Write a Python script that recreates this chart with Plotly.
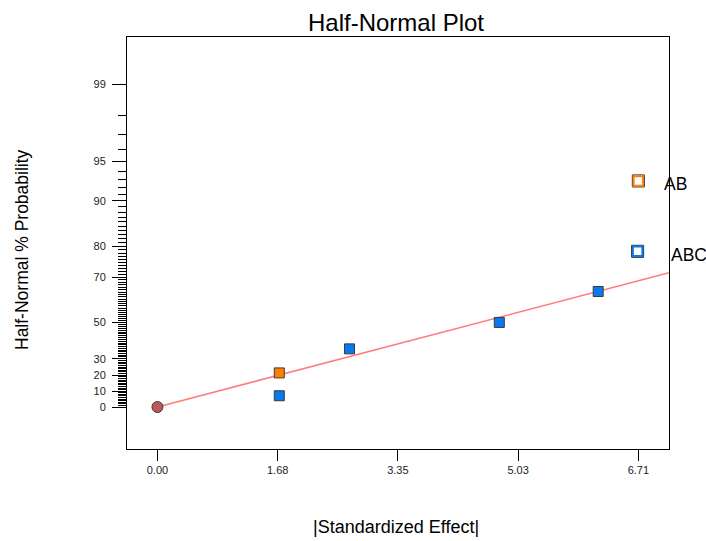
import plotly.graph_objects as go
from statistics import NormalDist

# Half-normal plot of standardized effects
effect = [1.70, 1.70, 2.68, 4.77, 6.15, 6.70, 6.71]
prob_pct = [7.14, 21.43, 35.71, 50.00, 64.29, 78.57, 92.86]
effect_sign = ["neg", "pos", "neg", "neg", "neg", "neg", "pos"]
chosen = [False, False, False, False, False, True, True]
term_label = ["", "", "", "", "", "ABC", "AB"]
label_dx = [0, 0, 0, 0, 0, 31, 24]
label_dy = [0, 0, 0, 0, 0, -4, -3.5]

origin_effect = [0.0]
origin_pct = [0.0]

fit_slope = 0.150  # half-normal quantile per unit of |effect|

x_tick_vals = [0.0, 1.6775, 3.355, 5.0325, 6.71]
x_tick_text = ["0.00", "1.68", "3.35", "5.03", "6.71"]
y_major_pct = [0, 10, 20, 30, 50, 70, 80, 90, 95, 99]
y_minor_pct = [p for p in range(1, 99) if p not in y_major_pct]

x_range = [-0.425, 7.138]
y_range = [-0.335, 2.951]

nd = NormalDist()


def hn(p):
    """Half-normal quantile for a percentage."""
    return nd.inv_cdf(0.5 + p / 200.0)


BLUE = "#0a78f0"
ORANGE = "#ff8000"
EDGE = "#3a3a3a"
FONT = "Liberation Sans, Arial, sans-serif"

fig = go.Figure()

# fitted line through the origin, running to the right edge of the frame
fig.add_trace(go.Scatter(
    x=[0.0, x_range[1]], y=[0.0, fit_slope * x_range[1]],
    mode="lines", line=dict(color="#ff7c7c", width=1.6),
    hoverinfo="skip", showlegend=False))

# origin point
fig.add_trace(go.Scatter(
    x=origin_effect, y=[hn(p) for p in origin_pct], mode="markers",
    marker=dict(symbol="circle", size=11, color="#c05858",
                line=dict(color=EDGE, width=1)),
    showlegend=False))

colour = [ORANGE if s == "pos" else BLUE for s in effect_sign]

# terms left in the error estimate: filled squares
fx = [e for e, c in zip(effect, chosen) if not c]
fy = [hn(p) for p, c in zip(prob_pct, chosen) if not c]
fc = [col for col, c in zip(colour, chosen) if not c]
fig.add_trace(go.Scatter(
    x=fx, y=fy, mode="markers",
    marker=dict(symbol="square", size=10, color=fc,
                line=dict(color=EDGE, width=1)),
    showlegend=False))

# chosen model terms: open squares
sx = [e for e, c in zip(effect, chosen) if c]
sy = [hn(p) for p, c in zip(prob_pct, chosen) if c]
sc = [col for col, c in zip(colour, chosen) if c]
fig.add_trace(go.Scatter(
    x=sx, y=sy, mode="markers",
    marker=dict(symbol="square", size=12, color="white",
                line=dict(color="#222222", width=1)),
    showlegend=False))
fig.add_trace(go.Scatter(
    x=sx, y=sy, mode="markers",
    marker=dict(symbol="square", size=9.5, color="white",
                line=dict(color=sc, width=2)),
    showlegend=False))

for e, p, c, t, dx, dy in zip(effect, prob_pct, chosen, term_label, label_dx, label_dy):
    if c:
        fig.add_annotation(
            x=e, y=hn(p), text=t, showarrow=False, xanchor="left",
            yanchor="middle", xshift=dx, yshift=dy,
            font=dict(family=FONT, size=17.5, color="black"))

fig.add_annotation(
    xref="paper", yref="paper", x=0.5, y=1, yshift=15, xshift=-2,
    text="Half-Normal Plot", showarrow=False, xanchor="center", yanchor="middle",
    font=dict(family=FONT, size=24, color="black"))
fig.add_annotation(
    xref="paper", yref="paper", x=0.5, y=0, yshift=-78, xshift=-2.5,
    text="|Standardized Effect|", showarrow=False, xanchor="center", yanchor="middle",
    font=dict(family=FONT, size=18, color="black"))
fig.add_annotation(
    xref="paper", yref="paper", x=0, y=0.5, xshift=-105.5, yshift=-6.5,
    text="Half-Normal % Probability", showarrow=False, textangle=-90,
    xanchor="center", yanchor="middle",
    font=dict(family=FONT, size=17.5, color="black"))

fig.update_layout(
    width=706, height=541,
    margin=dict(l=127, r=37, t=37, b=92),
    paper_bgcolor="white", plot_bgcolor="white",
    font=dict(family=FONT, size=11, color="#222222"),
    showlegend=False,
    xaxis=dict(
        range=x_range, showgrid=False, zeroline=False,
        showline=True, linecolor="black", linewidth=1, mirror=True,
        ticks="outside", ticklen=11, tickcolor="black", tickwidth=1,
        tickmode="array", tickvals=x_tick_vals, ticktext=x_tick_text,
        tickfont=dict(family=FONT, size=11, color="#222222")),
    yaxis=dict(
        range=y_range, showgrid=False, zeroline=False,
        showline=True, linecolor="black", linewidth=1, mirror=True,
        ticks="outside", ticklen=14, tickcolor="black", tickwidth=1,
        tickmode="array", tickvals=[hn(p) for p in y_major_pct],
        ticktext=[str(p) for p in y_major_pct],
        ticklabelstandoff=4,
        tickfont=dict(family=FONT, size=11, color="#222222"),
        minor=dict(tickmode="array", tickvals=[hn(p) for p in y_minor_pct],
                   ticks="outside", ticklen=8, tickcolor="black", tickwidth=1,
                   showgrid=False)),
)

fig.write_html("out.html")
